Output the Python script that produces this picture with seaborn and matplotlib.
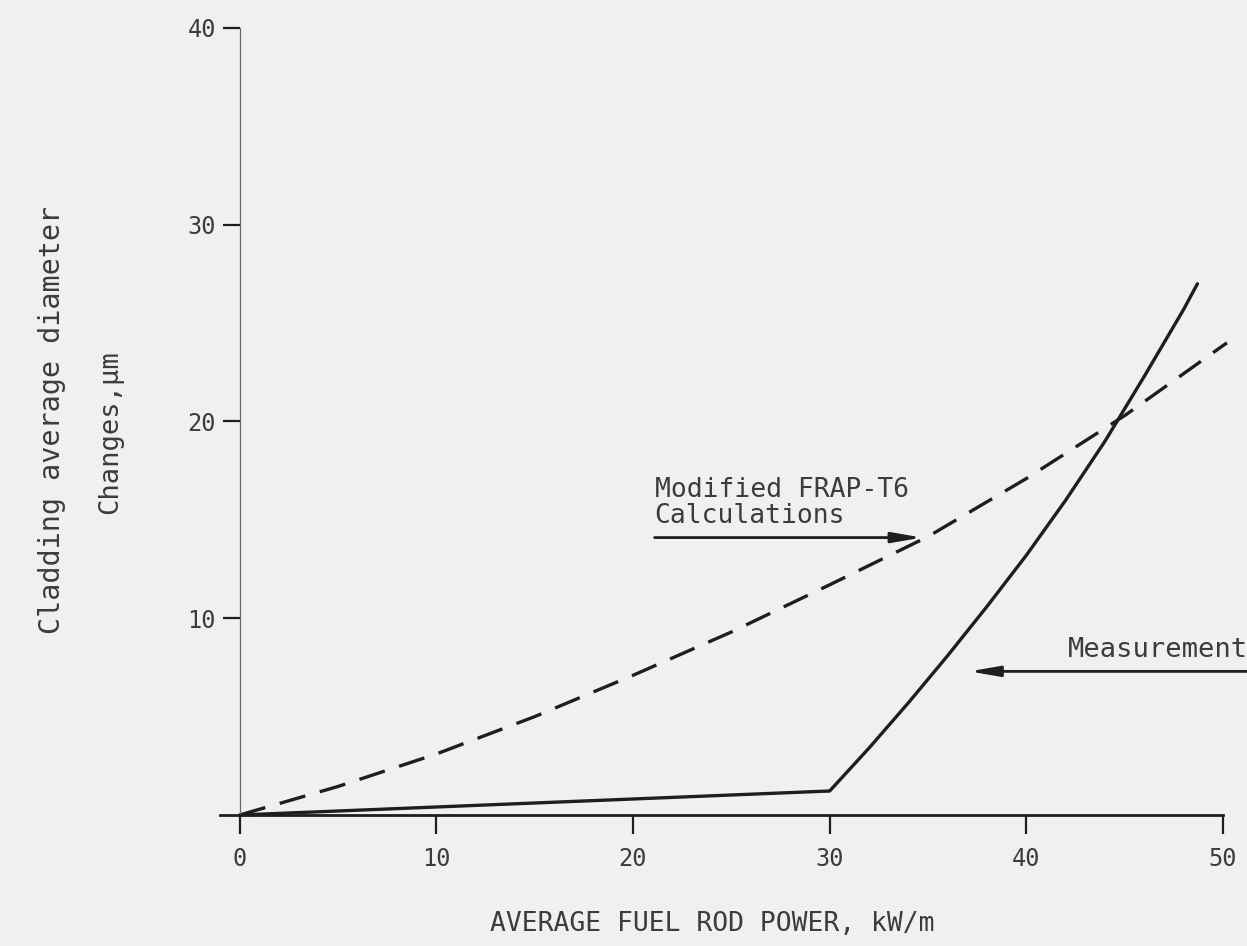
import matplotlib
matplotlib.use("Agg")
import matplotlib.pyplot as plt
import seaborn as sns
import pandas as pd

# Average fuel rod power (kW/m) and cladding diameter change (um)
calc_power = [0, 5, 10, 15, 20, 25, 30, 35, 40, 45, 50.2]
calc_change = [0, 1.45, 3.1, 5.0, 7.1, 9.3, 11.7, 14.15, 17.1, 20.3, 24.0]

meas_power = [0, 30, 32, 34, 36, 38, 40, 42, 44, 46, 48, 48.7]
meas_change = [0, 1.22, 3.4, 5.7, 8.1, 10.6, 13.2, 16.0, 19.0, 22.3, 25.7, 27.0]

x_ticks = [0, 10, 20, 30, 40, 50]
y_ticks = [10, 20, 30, 40]

calc_label = "Modified FRAP-T6\nCalculations"
meas_label = "Measurement"
x_title = "AVERAGE FUEL ROD POWER, kW/m"
y_title_outer = "Cladding average diameter"
y_title_inner = "Changes,\u00b5m"

bg = "#f0f0f0"
ink = "#1e1e1e"
text_ink = "#3c3c3c"

sns.set_theme(style="white")
plt.rcParams["font.family"] = ["DejaVu Sans Mono", "DejaVu Sans"]

fig = plt.figure(figsize=(12.47, 9.46), dpi=100, facecolor=bg)
ax = fig.add_axes([220 / 1247, 1 - 815 / 946, (1223 - 220) / 1247, (815 - 28) / 946])
ax.set_facecolor(bg)

calc = pd.DataFrame({"power": calc_power, "change": calc_change})
meas = pd.DataFrame({"power": meas_power, "change": meas_change})

sns.lineplot(data=calc, x="power", y="change", ax=ax, color=ink, lw=2.4,
             sort=False)
ax.lines[-1].set_dashes((8, 4.5))
sns.lineplot(data=meas, x="power", y="change", ax=ax, color=ink, lw=2.4,
             sort=False, clip_on=False)

ax.set_xlim(-1, 50)
ax.set_ylim(0, 40)
ax.set_xticks(x_ticks)
ax.set_yticks(y_ticks)
ax.set_xticklabels([str(v) for v in x_ticks])
ax.set_yticklabels([str(v) for v in y_ticks])
ax.set_ylabel("")
ax.lines[0].set_clip_on(False)

for s in ["top", "right"]:
    ax.spines[s].set_visible(False)
ax.spines["left"].set_position(("data", 0))
ax.spines["left"].set_color("#6a6a6a")
ax.spines["left"].set_linewidth(0.9)
ax.spines["bottom"].set_color(ink)
ax.spines["bottom"].set_linewidth(2.0)

ax.tick_params(axis="x", direction="out", length=14, width=1.6, color=ink,
               labelsize=17, labelcolor=text_ink, pad=9, bottom=True)
ax.tick_params(axis="y", direction="out", length=12, width=1.6, color=ink,
               labelsize=17, labelcolor=text_ink, pad=5, left=True)

ax.set_xlabel(x_title, fontsize=19, color=text_ink)
ax.xaxis.set_label_coords((712 - 220) / (1223 - 220), -(911 - 815) / (815 - 28))

fig.text(52 / 1247, 1 - 420 / 946, y_title_outer, rotation=90, fontsize=20.5,
         color=text_ink, ha="center", va="center")
fig.text(110 / 1247, 1 - 432 / 946, y_title_inner, rotation=90, fontsize=19.5,
         color=text_ink, ha="center", va="center")

# Label arrows pointing at each curve
ax.annotate("", xy=(34.7, 14.1), xytext=(21.1, 14.1),
            arrowprops=dict(arrowstyle="-|>,head_length=1.5,head_width=0.26",
                            color=ink, lw=2.0, shrinkA=0, shrinkB=0))
ax.text(21.1, 14.55, calc_label, fontsize=19, color=text_ink, ha="left",
        va="bottom", linespacing=1.0)

ax.annotate("", xy=(37.1, 7.3), xytext=(51.3, 7.3),
            arrowprops=dict(arrowstyle="-|>,head_length=1.5,head_width=0.26",
                            color=ink, lw=2.0, shrinkA=0, shrinkB=0),
            annotation_clip=False)
ax.text(51.25, 7.75, meas_label, fontsize=19.5, color=text_ink, ha="right",
        va="bottom", clip_on=False)

fig.savefig("out.png", dpi=100, facecolor=bg)
